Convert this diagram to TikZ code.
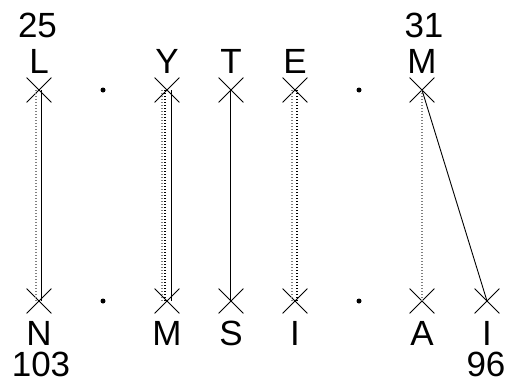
\documentclass[tikz,border=0pt]{standalone}
\usepackage{fontspec}
\setmainfont{Liberation Sans}
\usetikzlibrary{shapes.misc}
\tikzset{xpt/.style={cross out, draw, minimum size=24pt, inner sep=0pt, line width=0.8pt},
         gapdot/.style={circle, fill, inner sep=0pt, minimum size=5pt},
         lbl/.style={font=\fontsize{35}{40}\selectfont, inner sep=0pt},
         gdot/.style={gray, dash pattern=on 1.2pt off 1.8pt, line width=1.2pt},
         bdot/.style={black, dash pattern=on 1.2pt off 1.8pt, line width=1.2pt},
         link/.style={line width=0.9pt}}

\begin{document}
\begin{tikzpicture}[x=1pt,y=-1pt]
	\useasboundingbox (0,0) rectangle (507,380);
	% top row
	\node [xpt] (tL) at (39,90) {};
	\node [gapdot] (tg1) at (103,90) {};
	\node [xpt] (tY) at (167,90) {};
	\node [xpt] (tT) at (231,90) {};
	\node [xpt] (tE) at (295,90) {};
	\node [gapdot] (tg2) at (359,90) {};
	\node [xpt] (tM) at (422,90) {};
	% bottom row
	\node [xpt] (bN) at (39,301) {};
	\node [gapdot] (bg1) at (103,301) {};
	\node [xpt] (bM) at (167,301) {};
	\node [xpt] (bS) at (231,301) {};
	\node [xpt] (bI) at (295,301) {};
	\node [gapdot] (bg2) at (359,301) {};
	\node [xpt] (bA) at (422,301) {};
	\node [xpt] (bJ) at (487,301) {};
	% labels
	\node [lbl] (nTop1) at (37.5,25) {25};
	\node [lbl] (nTop2) at (424,25) {31};
	\node [lbl] at (39,61) {L};
	\node [lbl] at (167,61) {Y};
	\node [lbl] at (231,61) {T};
	\node [lbl] at (295,61) {E};
	\node [lbl] at (422,61) {M};
	\node [lbl] at (39,333) {N};
	\node [lbl] at (167,333) {M};
	\node [lbl] at (231,333) {S};
	\node [lbl] at (295,333) {I};
	\node [lbl] at (422,333) {A};
	\node [lbl] at (487,333) {I};
	\node [lbl] (nBot1) at (41,364) {103};
	\node [lbl] (nBot2) at (486,364) {96};
	% links
	\draw [gdot] ([xshift=-3pt]tL.center) -- ([xshift=-3pt]bN.center);
	\draw [link] ([xshift=2pt]tL.center) -- ([xshift=2pt]bN.center);
	\draw [gdot] ([xshift=-5pt]tY.center) -- ([xshift=-5pt]bM.center);
	\draw [bdot] ([xshift=-2pt]tY.center) -- ([xshift=-2pt]bM.center);
	\draw [link] ([xshift=4pt]tY.center) -- ([xshift=4pt]bM.center);
	\draw [link] ([xshift=-1pt]tT.center) -- ([xshift=-1pt]bS.center);
	\draw [gdot] ([xshift=-3pt]tE.center) -- ([xshift=-3pt]bI.center);
	\draw [bdot] ([xshift=2pt]tE.center) -- ([xshift=2pt]bI.center);
	\draw [gdot] (tM.center) -- (bA.center);
	\draw [link] (tM.center) -- (bJ.center);
\end{tikzpicture}
\end{document}
